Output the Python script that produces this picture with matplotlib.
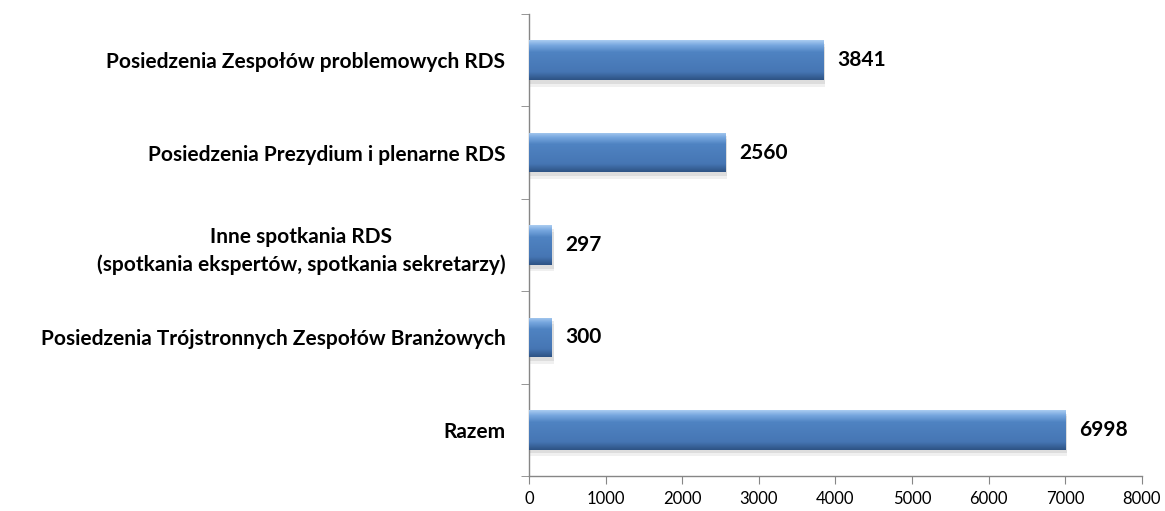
import numpy as np
import matplotlib.pyplot as plt
from matplotlib.colors import LinearSegmentedColormap

categories = [
    "Razem",
    "Posiedzenia Trójstronnych Zespołów Branżowych",
    "Inne spotkania RDS\n(spotkania ekspertów, spotkania sekretarzy)",
    "Posiedzenia Prezydium i plenarne RDS",
    "Posiedzenia Zespołów problemowych RDS",
]
values = [6998, 300, 297, 2560, 3841]
xticks = [0, 1000, 2000, 3000, 4000, 5000, 6000, 7000, 8000]

plt.rcParams['font.family'] = ['Lato', 'DejaVu Sans']

fig = plt.figure(figsize=(11.65, 5.11), dpi=100)
ax = fig.add_axes([0.454, 0.0685, 0.526, 0.904])

ypos = np.arange(len(categories))
bar_h = 0.43
bars = ax.barh(ypos, values, height=bar_h, color='#4A7EBB', zorder=3)

# vertical gradient for the Excel-like bevel look
grad = LinearSegmentedColormap.from_list(
    'bevel', [(0, '#A9CBF0'), (0.12, '#78A8DF'), (0.3, '#4F83C2'),
              (0.8, '#4676B4'), (1, '#2E5385')])
g = np.linspace(0, 1, 64).reshape(-1, 1)
for b, v in zip(bars, values):
    x0, y0 = b.get_x(), b.get_y()
    h = b.get_height()
    # soft shadow
    for k, a in [(0.07, 0.06), (0.04, 0.08)]:
        sh = plt.Rectangle((x0, y0 - k), v + 25, h, color='#000000', alpha=a,
                           zorder=2, lw=0)
        ax.add_patch(sh)
    im = ax.imshow(g, cmap=grad, aspect='auto', extent=(x0, x0 + v, y0, y0 + h),
                   origin='upper', zorder=4)
    im.set_clip_path(b)
    ax.text(v + 180, b.get_y() + h / 2, str(v), va='center', ha='left',
            fontsize=15, fontweight='bold', color='black')

ax.set_xlim(0, 8000)
ax.set_ylim(-0.5, len(categories) - 0.5)
ax.set_xticks(xticks)
ax.set_xticklabels([str(t) for t in xticks], fontsize=12)

ax.set_yticks(ypos)
ax.set_yticklabels(categories, fontsize=15, fontweight='bold',
                   multialignment='center', linespacing=1.45)
ax.tick_params(axis='y', length=0, pad=17)
ax.set_yticks(np.arange(-0.5, len(categories), 1), minor=True)
ax.tick_params(axis='y', which='minor', length=6, color='#868686', direction='out')
ax.tick_params(axis='x', length=6, color='#868686', direction='out', pad=5)

for s in ['top', 'right']:
    ax.spines[s].set_visible(False)
for s in ['left', 'bottom']:
    ax.spines[s].set_color('#868686')
    ax.spines[s].set_linewidth(1)

fig.savefig('out.png', dpi=100, facecolor='white')
